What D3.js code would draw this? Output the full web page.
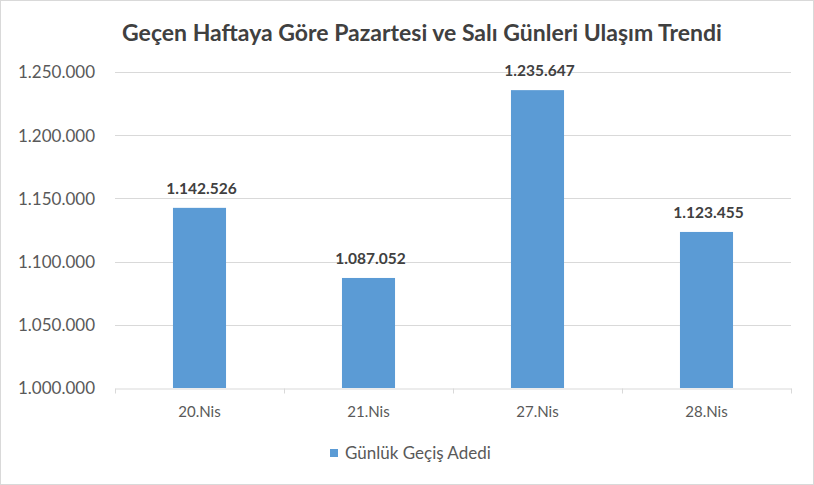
<!DOCTYPE html>
<html>
<head>
<meta charset="utf-8">
<script src="https://cdn.jsdelivr.net/npm/d3@7"></script>
<style>
  html, body { margin: 0; padding: 0; background: #fff; }
  svg { display: block; }
</style>
</head>
<body>
<script>
// データ
const categories = ["20.Nis", "21.Nis", "27.Nis", "28.Nis"];
const values = [1142526, 1087052, 1235647, 1123455];
const yTicks = [1000000, 1050000, 1100000, 1150000, 1200000, 1250000];
const seriesName = "Günlük Geçiş Adedi";
const title = "Geçen Haftaya Göre Pazartesi ve Salı Günleri Ulaşım Trendi";

const width = 814, height = 485;
const margin = { top: 72, right: 23, bottom: 97, left: 115 };
const fontFamily = "Lato, 'Open Sans', sans-serif";

// 数値フォーマット（ドット区切り）
const fmt = d => d3.format(",")(d).replace(/,/g, ".");

const svg = d3.select("body").append("svg")
  .attr("width", width)
  .attr("height", height)
  .style("font-family", fontFamily);

// 外枠
svg.append("rect")
  .attr("x", 0.5).attr("y", 0.5)
  .attr("width", width - 1).attr("height", height - 1)
  .attr("fill", "#fff")
  .attr("stroke", "#d9d9d9");

const x = d3.scaleBand()
  .domain(categories)
  .range([margin.left, width - margin.right])
  .paddingInner(0.686)
  .paddingOuter(0.343);

const y = d3.scaleLinear()
  .domain([yTicks[0], yTicks[yTicks.length - 1]])
  .range([height - margin.bottom, margin.top]);

// グリッド線
svg.append("g")
  .selectAll("line")
  .data(yTicks.slice(1))
  .join("line")
  .attr("x1", margin.left)
  .attr("x2", width - margin.right)
  .attr("y1", d => Math.round(y(d)) + 0.5)
  .attr("y2", d => Math.round(y(d)) + 0.5)
  .attr("stroke", "#d9d9d9")
  .attr("stroke-width", 1);

// Y軸ラベル
const yAxis = svg.append("g")
  .attr("transform", `translate(${margin.left - 20},0)`)
  .call(d3.axisLeft(y).tickValues(yTicks).tickFormat(fmt).tickSize(0));
yAxis.select(".domain").remove();
yAxis.selectAll("text")
  .attr("font-family", fontFamily)
  .attr("font-size", 17)
  .attr("fill", "#595959")
  .attr("x", 0)
  .attr("dy", "0.35em");

// 棒
svg.append("g")
  .selectAll("rect")
  .data(values)
  .join("rect")
  .attr("x", (d, i) => x(categories[i]))
  .attr("y", d => y(d))
  .attr("width", x.bandwidth())
  .attr("height", d => y(yTicks[0]) - y(d))
  .attr("fill", "#5b9bd5");

// データラベル
svg.append("g")
  .selectAll("text")
  .data(values)
  .join("text")
  .attr("x", (d, i) => x(categories[i]) + x.bandwidth() / 2 + 2)
  .attr("y", d => y(d) - 14)
  .attr("text-anchor", "middle")
  .attr("font-size", 15.5)
  .attr("font-weight", "bold")
  .attr("fill", "#404040")
  .text(fmt);

// X軸
const xAxis = svg.append("g")
  .attr("transform", `translate(0,${Math.round(y(yTicks[0])) + 0.5})`)
  .call(d3.axisBottom(x).tickSize(0).tickPadding(18));
xAxis.select(".domain").attr("stroke", "#d9d9d9");
xAxis.selectAll("text")
  .attr("font-family", fontFamily)
  .attr("font-size", 15)
  .attr("fill", "#595959");

// カテゴリ境界の目盛り
const bounds = d3.range(categories.length + 1).map(i => margin.left + i * (width - margin.left - margin.right) / categories.length);
xAxis.selectAll(".sep")
  .data(bounds)
  .join("line")
  .attr("class", "sep")
  .attr("x1", d => Math.round(d) + 0.5)
  .attr("x2", d => Math.round(d) + 0.5)
  .attr("y1", 0)
  .attr("y2", 5)
  .attr("stroke", "#d9d9d9");

// タイトル
svg.append("text")
  .attr("x", 422)
  .attr("y", 41)
  .attr("text-anchor", "middle")
  .attr("font-size", 23)
  .attr("font-weight", "bold")
  .attr("fill", "#404040")
  .text(title);

// 凡例
const legend = svg.append("g").attr("transform", "translate(330,449)");
legend.append("rect")
  .attr("width", 8).attr("height", 8)
  .attr("fill", "#5b9bd5");
legend.append("text")
  .attr("x", 15)
  .attr("y", 10)
  .attr("font-size", 17)
  .attr("fill", "#595959")
  .text(seriesName);
</script>
</body>
</html>
